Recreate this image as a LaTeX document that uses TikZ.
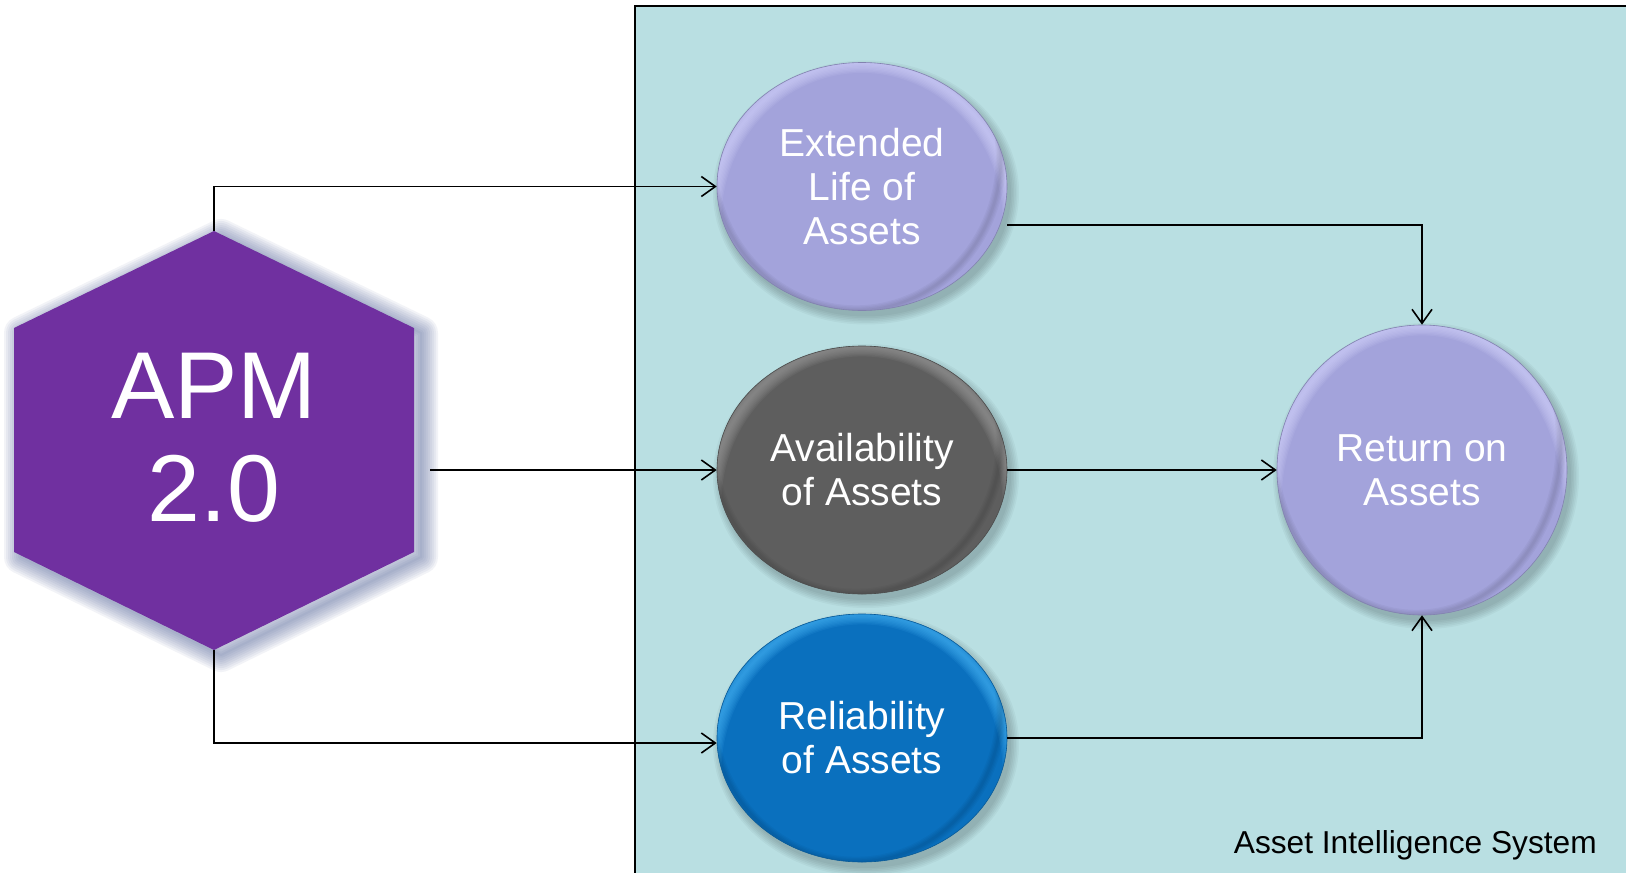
\documentclass[tikz,border=0pt]{standalone}
\usepackage{fontspec}
\setmainfont{Liberation Sans}
\usetikzlibrary{shapes.geometric,arrows.meta}
\definecolor{tealbg}{HTML}{B9DFE2}
\definecolor{apmcol}{HTML}{7030A0}
\definecolor{glowcol}{HTML}{56699A}
\definecolor{lav}{HTML}{A3A3DB}
\definecolor{lavlight}{HTML}{D6D6FF}
\definecolor{grayball}{HTML}{5E5E5E}
\definecolor{graylight}{HTML}{A0A0A0}
\definecolor{blueball}{HTML}{0A70BE}
\definecolor{bluelight}{HTML}{4AB8F8}
\tikzset{
  ball/.style n args={4}{ellipse, minimum width=#1, minimum height=#2, inner sep=0pt,
    fill=#3, draw=#3!80!black, line width=0.6pt, text=white,
    font=\fontsize{39}{44}\selectfont, align=center,
    path picture={
      \foreach \k in {1,...,8}{
        \draw[#4, opacity=0.11, line width=\k*2.6pt]
          ([yshift=-34pt]path picture bounding box.center) ellipse ({#1/2+6pt} and {#2/2+34pt});
      }
      \foreach \k in {1,...,4}{
        \draw[black, opacity=0.03, line width=\k*2.6pt]
          ([yshift=30pt,xshift=-6pt]path picture bounding box.center) ellipse ({#1/2} and {#2/2+30pt});
      }
    }},
  conn/.style={line width=1.6pt, draw=black, -{Straight Barb[length=14pt,width=20pt,line width=1.6pt]}},
  shadowring/.style={fill=black, opacity=0.035}
}
\begin{document}
\begin{tikzpicture}[x=1pt,y=-1pt]
\useasboundingbox (0,0) rectangle (1626,873);
\fill[white] (0,0) rectangle (1626,873);
% system box
\fill[tealbg] (635,6) rectangle (1626,873);
\draw[line width=1.6pt] (1626,6) -- (635,6) -- (635,873);
% soft shadows of balls
\foreach \cx/\cy/\rx/\ry in {862/186.5/145/124, 862/470/145/124, 862/738/145/124, 1422/470/145/145}{
  \foreach \k in {0,...,5}{
    \fill[shadowring] (\cx+4,\cy+6) ellipse ({\rx+\k*1.6} and {\ry+\k*1.6});
  }
}
% hexagon glow
\foreach \w in {34,30,...,2}{
  \draw[glowcol, opacity=0.075, line width=\w pt, line join=round]
    (221,236) -- (421,333) -- (421,557) -- (221,655) -- (21,557) -- (21,333) -- cycle;
}
\fill[apmcol] (214,231) -- (414,328) -- (414,552) -- (214,650) -- (14,552) -- (14,328) -- cycle;
\coordinate (hexT) at (214,231);
\coordinate (hexB) at (214,650);
\coordinate (hexR) at (430,470);
\node[text=white, font=\fontsize{95}{103}\selectfont, align=center, inner sep=0pt] (apm) at (214,438) {APM\\2.0};
% balls
\node[ball={290pt}{248pt}{lav}{lavlight}] (e1) at (862,186.5) {Extended\\Life of\\Assets};
\node[ball={290pt}{248pt}{grayball}{graylight}] (e2) at (862,470) {Availability\\of Assets};
\node[ball={290pt}{248pt}{blueball}{bluelight}] (e3) at (862,738) {Reliability\\of Assets};
\node[ball={290pt}{290pt}{lav}{lavlight}] (roa) at (1422,470) {Return on\\Assets};
% connectors
\draw[conn] (hexT) |- (e1.west);
\draw[conn] (hexR) -- (e2.west);
\draw[conn] (hexB) |- ([yshift=-5pt]e3.west);
\draw[conn] ([yshift=-38.5pt]e1.east) -| (roa.north);
\draw[conn] (e2.east) -- (roa.west);
\draw[conn] (e3.east) -| (roa.south);
% label
\node[anchor=base east, inner sep=0pt, font=\fontsize{31.7}{36}\selectfont] (lbl) at (1597,853) {Asset Intelligence System};
\end{tikzpicture}
\end{document}
